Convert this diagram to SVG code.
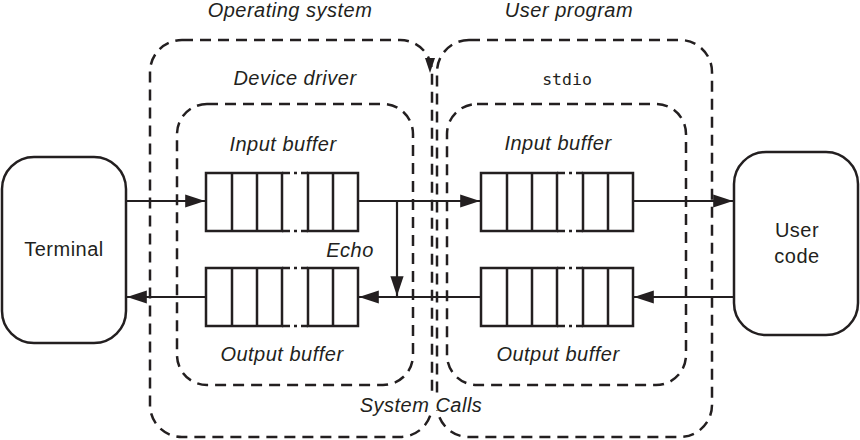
<svg xmlns="http://www.w3.org/2000/svg" width="860" height="440" viewBox="0 0 860 440">
<defs>
<style>
.dash{fill:none;stroke:#231f20;stroke-width:2.5;stroke-dasharray:11 7}
.box{fill:#fff;stroke:#231f20;stroke-width:2.5}
.cell{fill:none;stroke:#231f20;stroke-width:2.5}
.gap{fill:none;stroke:#231f20;stroke-width:2.5;stroke-dasharray:8 4 3 4}
.line{fill:none;stroke:#231f20;stroke-width:2.2}
.it{font-family:"Liberation Sans",Arial,sans-serif;font-style:italic;font-size:20px;letter-spacing:0.5px;fill:#231f20;text-anchor:middle}
.rg{font-family:"Liberation Sans",Arial,sans-serif;font-size:20px;letter-spacing:0.5px;fill:#231f20;text-anchor:middle}
.mono{font-family:"DejaVu Sans Mono","Liberation Mono",monospace;font-size:16.5px;fill:#231f20;text-anchor:middle}
</style>
<marker id="ah" viewBox="0 0 18 12" refX="18" refY="6" markerWidth="9" markerHeight="6" markerUnits="strokeWidth" orient="auto">
<path d="M0,0 L18,6 L0,12 z" fill="#231f20"/>
</marker>
<g id="buf">
<rect class="cell" x="0" y="0" width="76" height="58"/>
<line class="cell" x1="26" y1="0" x2="26" y2="58"/>
<line class="cell" x1="51" y1="0" x2="51" y2="58"/>
<rect class="cell" x="102" y="0" width="50" height="58"/>
<line class="cell" x1="127" y1="0" x2="127" y2="58"/>
<line class="gap" x1="76" y1="0" x2="102" y2="0"/>
<line class="gap" x1="76" y1="58" x2="102" y2="58"/>
</g>
</defs>
<rect width="860" height="440" fill="#fff"/>

<g id="os">
<rect class="dash" x="150" y="40" width="282" height="397" rx="32"/>
<text class="it" x="290" y="17">Operating system</text>
<path d="M425,58 L435,58 L430,73 z" fill="#231f20"/>
</g>
<g id="userprog">
<rect class="dash" x="437" y="40" width="275" height="397" rx="32"/>
<text class="it" x="569" y="17">User program</text>
</g>
<g id="driver">
<rect class="dash" x="177" y="104" width="236" height="281" rx="30"/>
<text class="it" x="295" y="85">Device driver</text>
</g>
<g id="stdio">
<rect class="dash" x="447" y="104" width="239" height="281" rx="30"/>
<text class="mono" x="567" y="85">stdio</text>
</g>
<g id="syscalls">
<rect x="418" y="393" width="30" height="17" fill="#fff"/>
<text class="it" x="421" y="412">System Calls</text>
</g>

<g id="terminal">
<rect class="box" x="2" y="157" width="124" height="186" rx="32"/>
<text class="rg" x="64" y="256">Terminal</text>
</g>
<g id="usercode">
<rect class="box" x="734" y="152" width="124" height="183" rx="32"/>
<text class="rg" x="797" y="237">User</text>
<text class="rg" x="797" y="263">code</text>
</g>

<g id="in-left">
<text class="it" x="283" y="151">Input buffer</text>
<use href="#buf" x="206" y="173"/>
</g>
<g id="out-left">
<use href="#buf" x="206" y="268"/>
<text class="it" x="282" y="361">Output buffer</text>
</g>
<g id="in-right">
<text class="it" x="558" y="150">Input buffer</text>
<use href="#buf" x="481" y="173"/>
</g>
<g id="out-right">
<use href="#buf" x="481" y="268"/>
<text class="it" x="558" y="361">Output buffer</text>
</g>
<g id="echo">
<text class="it" x="350" y="257">Echo</text>
</g>

<g id="connectors">
<line class="line" x1="126" y1="201" x2="205" y2="201" marker-end="url(#ah)"/>
<line class="line" x1="358" y1="201" x2="480" y2="201" marker-end="url(#ah)"/>
<line class="line" x1="633" y1="201" x2="733" y2="201" marker-end="url(#ah)"/>
<line class="line" x1="397" y1="201" x2="397" y2="296" marker-end="url(#ah)"/>
<line class="line" x1="734" y1="297" x2="634" y2="297" marker-end="url(#ah)"/>
<line class="line" x1="481" y1="297" x2="359" y2="297" marker-end="url(#ah)"/>
<line class="line" x1="206" y1="297" x2="127" y2="297" marker-end="url(#ah)"/>
</g>
</svg>
